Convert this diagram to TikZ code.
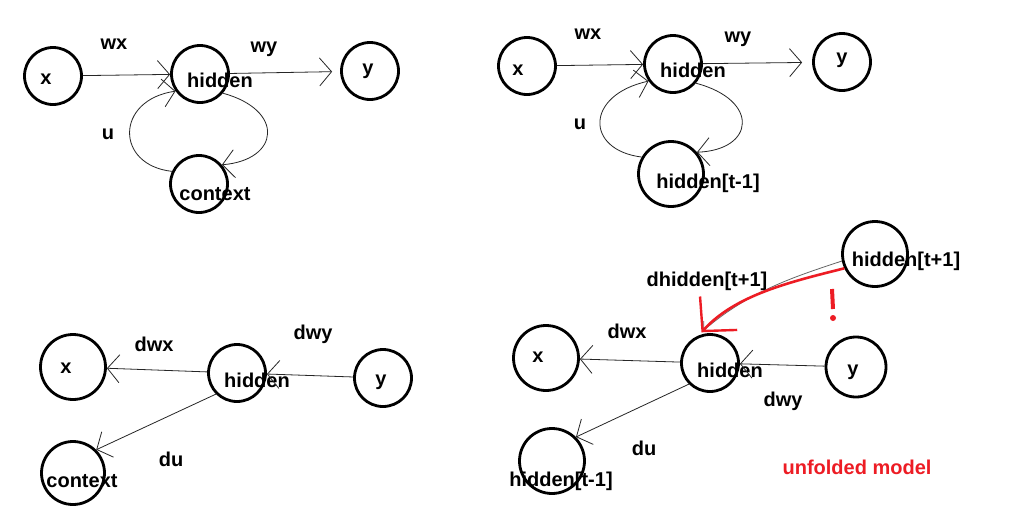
\documentclass[tikz,border=0pt]{standalone}
\usepackage{fontspec}
\setmainfont{Liberation Sans}
\usetikzlibrary{arrows.meta}
\definecolor{paintred}{RGB}{237,28,36}
\begin{document}
\begin{tikzpicture}[x=1pt,y=-1pt,
  circ/.style={circle,draw=black,line width=2.8pt,minimum size=#1,inner sep=0pt},
  circ/.default=57pt,
  lbl/.style={font=\bfseries\fontsize{20}{24}\selectfont,inner sep=0pt,text=black},
  conn/.style={draw=black!85,line width=0.8pt,-{Straight Barb[length=12pt,width=28pt]}},
  redconn/.style={draw=paintred,line width=2.6pt,-{Straight Barb[length=24pt,width=50pt,line width=2.4pt]}}]
\useasboundingbox[fill=white] (0,0) rectangle (1013,517);

% ---------- top left ----------
\node[circ] (x1c) at (53,76) {};
\node[circ] (h1c) at (200,74) {};
\node[circ] (y1c) at (370,71) {};
\node[circ] (c1c) at (199,184) {};
\node[lbl] (x1t) at (46,79) {x};
\node[lbl] (h1t) at (220,80) {hidden};
\node[lbl] (y1t) at (368,71) {y};
\node[lbl] (c1t) at (215,194) {context};
\node[lbl] (wx1) at (114,44) {wx};
\node[lbl] (wy1) at (264,49) {wy};
\node[lbl] (u1) at (108,134) {u};
\draw[conn] (x1c) -- (h1c);
\draw[conn,shorten >=8pt] (h1c) -- (y1c);
\draw[conn] (c1c.155) .. controls (115,165) and (115,100) .. (h1c.215);
\draw[conn] (h1c.-40) .. controls (285,110) and (280,160) .. (c1c.40);

% ---------- top right ----------
\node[circ] (x2c) at (527,66) {};
\node[circ] (h2c) at (673,64) {};
\node[circ] (y2c) at (842,62) {};
\node[circ=65pt] (h2mc) at (671,174) {};
\node[lbl] (x2t) at (518,70) {x};
\node[lbl] (h2t) at (693,70) {hidden};
\node[lbl] (y2t) at (842,60) {y};
\node[lbl] (h2mt) at (708,183) {hidden[t-1]};
\node[lbl] (wx2) at (588,34) {wx};
\node[lbl] (wy2) at (738,39) {wy};
\node[lbl] (u2) at (580,124) {u};
\draw[conn] (x2c) -- (h2c);
\draw[conn,shorten >=10pt] (h2c) -- (y2c);
\draw[conn] (h2mc.150) .. controls (585,150) and (585,95) .. (h2c.215);
\draw[conn] (h2c.-40) .. controls (760,100) and (755,150) .. (h2mc.40);

% ---------- bottom left ----------
\node[circ=65pt] (x3c) at (73,367) {};
\node[circ] (h3c) at (237,373) {};
\node[circ] (y3c) at (383,378) {};
\node[circ=63pt] (c3c) at (73,473) {};
\node[lbl] (x3t) at (66,368) {x};
\node[lbl] (h3t) at (257,380) {hidden};
\node[lbl] (y3t) at (381,382) {y};
\node[lbl] (c3t) at (82,481) {context};
\node[lbl] (dwx3) at (154,344) {dwx};
\node[lbl] (dwy3) at (313,334) {dwy};
\node[lbl] (du3) at (171,459) {du};
\draw[conn] (h3c) -- (x3c);
\draw[conn] (y3c) -- (h3c);
\draw[conn] (h3c.225) -- (c3c.45);

% ---------- bottom right ----------
\node[circ=65pt] (ht1c) at (875,254) {};
\node[circ=65pt] (x4c) at (546,358) {};
\node[circ] (h4c) at (710,363) {};
\node[circ=60pt] (y4c) at (856,367) {};
\node[circ=65pt] (hm4c) at (552,461) {};
\node[lbl] (ht1t) at (906,261) {hidden[t+1]};
\node[lbl] (dht) at (707,281) {dhidden[t+1]};
\node[lbl] (x4t) at (538,357) {x};
\node[lbl] (h4t) at (730,370) {hidden};
\node[lbl] (y4t) at (853,372) {y};
\node[lbl] (hm4t) at (561,481) {hidden[t-1]};
\node[lbl] (dwx4) at (627,331) {dwx};
\node[lbl] (dwy4) at (783,401) {dwy};
\node[lbl] (du4) at (644,448) {du};
\node[font=\bfseries\fontsize{20}{24}\selectfont,inner sep=0pt,text=paintred] (um) at (857,467) {unfolded model};
\draw[conn] (h4c) -- (x4c);
\draw[conn] (y4c) -- (h4c);
\draw[conn] (h4c.225) -- (hm4c.45);
\draw[conn,draw=black!60,-{Straight Barb[length=6pt,width=14pt]},shorten >=8pt] (ht1c.192) .. controls (800,275) and (750,290) .. (h4c.115);
\draw[redconn,shorten >=4pt] (ht1c.205) .. controls (790,282) and (735,295) .. (h4c.112);
% red exclamation mark
\draw[paintred,line width=4pt] (832,289) -- (833,309);
\fill[paintred] (833,318) circle (3pt);
\end{tikzpicture}
\end{document}
